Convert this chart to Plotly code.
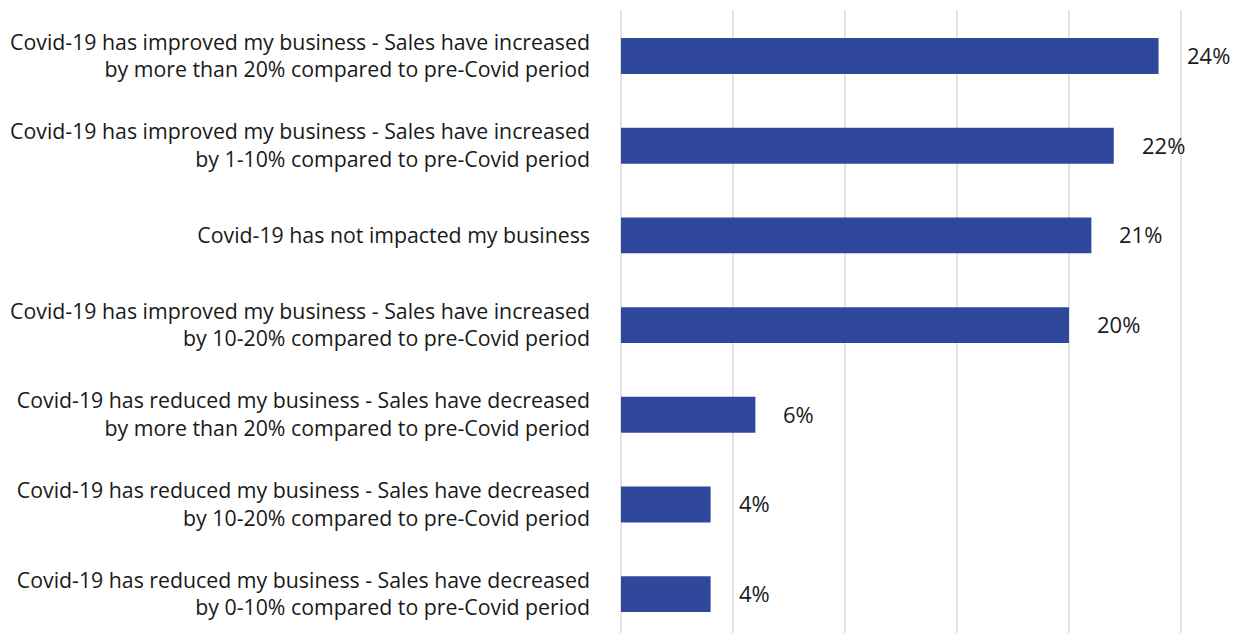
import plotly.graph_objects as go

categories = [
    "Covid-19 has improved my business - Sales have increased<br>by more than 20% compared to pre-Covid period",
    "Covid-19 has improved my business - Sales have increased<br>by 1-10% compared to pre-Covid period",
    "Covid-19 has not impacted my business",
    "Covid-19 has improved my business - Sales have increased<br>by 10-20% compared to pre-Covid period",
    "Covid-19 has reduced my business - Sales have decreased<br>by more than 20% compared to pre-Covid period",
    "Covid-19 has reduced my business - Sales have decreased<br>by 10-20% compared to pre-Covid period",
    "Covid-19 has reduced my business - Sales have decreased<br>by 0-10% compared to pre-Covid period",
]
values = [24, 22, 21, 20, 6, 4, 4]
value_labels = [f"{v}%" for v in values]

BAR_COLOR = "#30489C"
TEXT_COLOR = "#1a1a1a"
GRID_COLOR = "#E2E2E2"
FONT = "Open Sans"

fig = go.Figure(
    go.Bar(
        x=values,
        y=categories,
        orientation="h",
        marker=dict(color=BAR_COLOR, line=dict(width=0)),
        width=0.4,
        hoverinfo="skip",
    )
)

for cat, v, lab in zip(categories, values, value_labels):
    fig.add_annotation(
        x=v, y=cat, text=lab, showarrow=False,
        xanchor="left", yanchor="middle", xshift=26, yshift=1,
        font=dict(family=FONT, size=22, color=TEXT_COLOR),
    )

fig.update_layout(
    width=1241,
    height=633,
    margin=dict(l=621, r=0, t=10, b=0),
    paper_bgcolor="white",
    plot_bgcolor="white",
    showlegend=False,
    font=dict(family=FONT, size=21.3, color=TEXT_COLOR),
    bargap=0.6,
)

fig.update_xaxes(
    range=[0, 27.68],
    dtick=5,
    showticklabels=False,
    showgrid=True,
    gridcolor=GRID_COLOR,
    gridwidth=1.5,
    zeroline=True,
    zerolinecolor=GRID_COLOR,
    zerolinewidth=1.5,
    showline=False,
    layer="below traces",
    fixedrange=True,
)

fig.update_yaxes(
    categoryorder="array",
    categoryarray=categories,
    range=[6.433, -0.513],
    showgrid=False,
    zeroline=False,
    showline=False,
    ticks="",
    ticklabelstandoff=30,
    tickfont=dict(family=FONT, size=21.3, color=TEXT_COLOR),
    fixedrange=True,
)

fig.write_html("out.html", config={"displayModeBar": False})
